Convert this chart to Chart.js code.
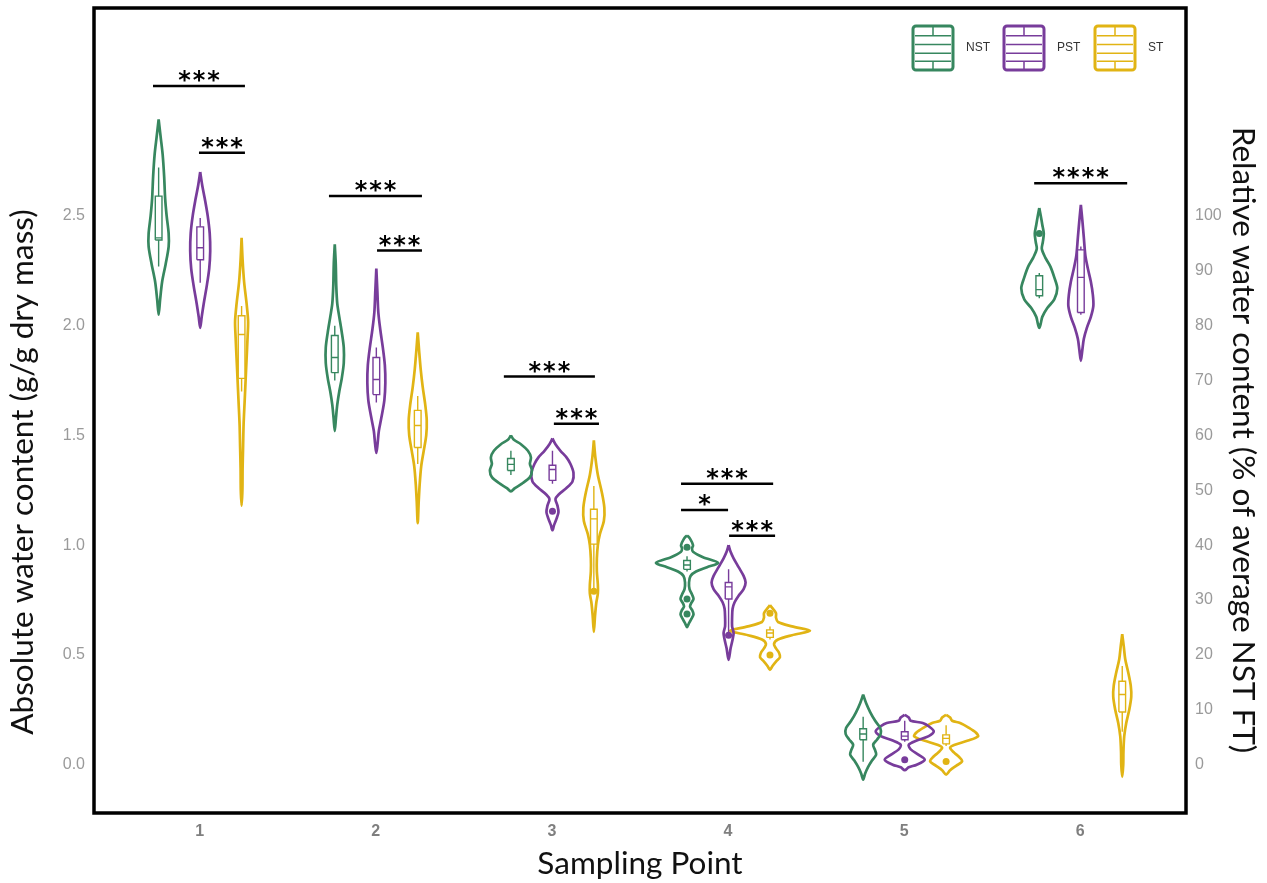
<!DOCTYPE html>
<html>
<head>
<meta charset="utf-8">
<title>Water content by sampling point</title>
<script src="https://cdn.jsdelivr.net/npm/chart.js@4.4.0/dist/chart.umd.min.js"></script>
<style>
  html, body { margin: 0; padding: 0; background: #fff; }
  #wrap { width: 1267px; height: 883px; }
</style>
</head>
<body>
<div id="wrap"><canvas id="chart" width="1267" height="883"></canvas></div>
<script>
'use strict';

//#region Data

const samplingPoints = [1, 2, 3, 4, 5, 6];
const treatments = ['NST', 'PST', 'ST'];
const absTicks = [0, 0.5, 1, 1.5, 2, 2.5];
const relTicks = [0, 10, 20, 30, 40, 50, 60, 70, 80, 90, 100];
// relative content (% of average NST FT) = absolute content * 40
const relPerAbs = 40;

// violin outlines, one per sampling point: [water content, density], top to bottom
const nstViolins = [
  [[2.94, 0], [2.86, 2], [2.78, 4], [2.68, 5.5], [2.58, 6.5], [2.50, 8], [2.42, 10], [2.36, 10], [2.28, 7], [2.20, 3.5], [2.12, 1.5], [2.05, 0]],
  [[2.37, 0], [2.28, 1], [2.18, 1.5], [2.10, 2.5], [2.04, 4.5], [1.97, 7], [1.90, 9], [1.83, 9], [1.76, 7], [1.70, 4.5], [1.64, 2.5], [1.58, 1.2], [1.52, 0]],
  [[1.50, 0], [1.48, 3], [1.46, 10], [1.43, 17], [1.40, 20], [1.37, 19], [1.34, 21], [1.31, 19], [1.28, 11], [1.26, 4], [1.245, 0]],
  [[1.045, 0], [1.03, 3], [1.00, 6], [0.985, 5], [0.97, 6], [0.945, 16], [0.92, 31], [0.90, 20], [0.88, 9], [0.86, 3.5], [0.83, 2], [0.80, 2.5], [0.775, 5], [0.755, 6.5], [0.735, 4], [0.72, 3], [0.705, 5], [0.686, 6.5], [0.665, 4.5], [0.645, 2], [0.627, 0]],
  [[0.319, 0], [0.28, 3], [0.24, 7], [0.20, 12], [0.168, 17], [0.14, 17.5], [0.115, 14], [0.091, 10], [0.065, 12], [0.046, 13], [0.02, 9], [-0.01, 5], [-0.04, 2], [-0.068, 0]],
  [[2.536, 0], [2.50, 1.5], [2.46, 3], [2.42, 4.5], [2.38, 3.5], [2.35, 2.5], [2.31, 6], [2.27, 11], [2.22, 15], [2.17, 18], [2.12, 15], [2.08, 8], [2.04, 3], [2.01, 1.5], [1.99, 0]]
];

const pstViolins = [
  [[2.70, 0], [2.64, 2], [2.58, 4.5], [2.50, 7.5], [2.42, 9.5], [2.34, 10], [2.26, 9], [2.18, 6.5], [2.10, 3.5], [2.04, 1.5], [1.99, 0]],
  [[2.26, 0], [2.16, 1], [2.06, 2], [1.98, 4], [1.90, 6.5], [1.82, 8.5], [1.74, 9], [1.66, 8], [1.58, 5], [1.52, 2.5], [1.46, 1.2], [1.42, 0]],
  [[1.486, 0], [1.46, 3], [1.43, 8], [1.40, 14], [1.37, 18], [1.33, 21], [1.29, 20], [1.26, 14], [1.23, 6], [1.21, 3], [1.18, 5], [1.15, 6], [1.12, 4], [1.09, 1.5], [1.068, 0]],
  [[1.00, 0], [0.97, 2], [0.94, 5], [0.90, 10], [0.86, 15], [0.83, 17], [0.80, 15], [0.77, 10], [0.74, 6], [0.71, 4], [0.67, 3.5], [0.63, 3.5], [0.60, 5], [0.57, 4], [0.53, 2], [0.477, 0]],
  [[0.227, 0], [0.215, 4], [0.20, 6], [0.19, 18], [0.175, 24], [0.152, 29], [0.13, 24], [0.11, 12], [0.091, 4], [0.07, 6], [0.045, 14], [0.023, 20], [0.0, 12], [-0.012, 4], [-0.025, 0]],
  [[2.55, 0], [2.48, 1.5], [2.40, 3], [2.32, 4.5], [2.26, 7], [2.20, 10], [2.14, 12], [2.09, 12.5], [2.04, 10], [1.99, 6], [1.94, 3], [1.89, 1.5], [1.84, 0]]
];

const stViolins = [
  [[2.40, 0], [2.30, 1], [2.20, 2.5], [2.10, 5], [2.02, 6.5], [1.95, 6], [1.85, 5], [1.75, 4], [1.65, 3], [1.55, 2], [1.45, 1.5], [1.35, 1], [1.25, 0.8], [1.18, 0]],
  [[1.97, 0], [1.88, 1.5], [1.80, 3], [1.72, 5], [1.64, 7.5], [1.57, 9], [1.50, 8.5], [1.43, 6], [1.36, 3.5], [1.28, 2], [1.20, 1], [1.10, 0]],
  [[1.477, 0], [1.40, 1.5], [1.32, 4], [1.24, 8], [1.17, 10.5], [1.11, 10], [1.05, 6], [1.00, 4], [0.94, 3], [0.88, 3], [0.82, 4], [0.78, 4], [0.74, 2.5], [0.68, 1.2], [0.605, 0]],
  [[0.727, 0], [0.71, 3], [0.69, 6], [0.67, 6], [0.65, 8], [0.63, 22], [0.61, 40], [0.59, 22], [0.57, 8], [0.55, 4], [0.53, 6], [0.51, 9], [0.49, 10], [0.47, 6], [0.45, 2.5], [0.432, 0]],
  [[0.227, 0], [0.215, 4], [0.20, 6], [0.19, 14], [0.17, 22], [0.145, 30], [0.129, 32], [0.11, 22], [0.09, 8], [0.077, 4], [0.055, 8], [0.035, 13], [0.015, 16], [-0.005, 10], [-0.025, 4], [-0.045, 0]],
  [[0.595, 0], [0.54, 1.5], [0.48, 3], [0.42, 6], [0.36, 8.5], [0.31, 9], [0.25, 7], [0.19, 4], [0.13, 2], [0.06, 1.2], [0.0, 1], [-0.055, 0]]
];

// inner boxplots: [lower whisker, q1, median, q3, upper whisker]
const nstBoxes = [
  [2.27, 2.39, 2.40, 2.59, 2.72],
  [1.75, 1.786, 1.855, 1.955, 2.00],
  [1.32, 1.34, 1.368, 1.395, 1.43],
  [0.88, 0.89, 0.91, 0.93, 0.95],
  [0.014, 0.114, 0.14, 0.164, 0.218],
  [2.125, 2.136, 2.164, 2.227, 2.24]
];

const pstBoxes = [
  [2.195, 2.30, 2.355, 2.45, 2.49],
  [1.65, 1.686, 1.755, 1.855, 1.90],
  [1.28, 1.295, 1.345, 1.364, 1.43],
  [0.60, 0.755, 0.81, 0.83, 0.89],
  [0.105, 0.114, 0.13, 0.15, 0.20],
  [2.05, 2.06, 2.22, 2.345, 2.36]
];

const stBoxes = [
  [1.70, 1.76, 1.96, 2.045, 2.09],
  [1.37, 1.445, 1.545, 1.614, 1.68],
  [0.79, 1.005, 1.12, 1.164, 1.27],
  [0.57, 0.58, 0.60, 0.614, 0.63],
  [0.085, 0.095, 0.12, 0.136, 0.18],
  [0.15, 0.24, 0.32, 0.38, 0.45]
];

// isolated observations: [sampling point, value]
const nstDots = [[4, 0.99], [4, 0.755], [4, 0.686], [6, 2.42]];
const pstDots = [[3, 1.155], [4, 0.59], [5, 0.023]];
const stDots = [[3, 0.79], [4, 0.69], [4, 0.50], [5, 0.015]];

// significance brackets: [from, to, height, stars]
const sigBrackets = [
  [0.735, 1.257, 3.092, '***'],
  [0.996, 1.257, 2.788, '***'],
  [1.734, 2.262, 2.591, '***'],
  [2.007, 2.262, 2.342, '***'],
  [2.727, 3.244, 1.768, '***'],
  [3.011, 3.267, 1.553, '***'],
  [3.733, 4.256, 1.280, '***'],
  [3.733, 4.000, 1.160, '*'],
  [4.006, 4.267, 1.043, '***'],
  [5.738, 6.266, 2.649, '****']
];

//#endregion

//#region Styles

const groups = [
  { name: 'NST', color: '#37875f', dodge: -0.233, violins: nstViolins, boxes: nstBoxes, dots: nstDots },
  { name: 'PST', color: '#783c9b', dodge: 0.003, violins: pstViolins, boxes: pstBoxes, dots: pstDots },
  { name: 'ST', color: '#e1b414', dodge: 0.238, violins: stViolins, boxes: stBoxes, dots: stDots }
];

const densityToX = 1 / 176;
const boxHalf = 0.019;
const absMin = -0.22;
const absMax = 3.447;

const titleColor = '#111111';
const titleFontCss = '31.5px Lato, sans-serif';
const leftTitle = 'Absolute water content (g/g dry mass)';
const rightTitle = 'Relative water content (% of average NST FT)';

//#endregion

//#region Builders

function violinOutline(center, profile) {
  const right = profile.map(([v, d]) => ({ x: center + d * densityToX, y: v }));
  const left = profile.slice(0, -1).reverse().map(([v, d]) => ({ x: center - d * densityToX, y: v }));
  return right.concat(left);
}

function boxOutline(center, box) {
  const q1 = box[1];
  const q3 = box[3];
  return [
    { x: center - boxHalf, y: q1 }, { x: center + boxHalf, y: q1 },
    { x: center + boxHalf, y: q3 }, { x: center - boxHalf, y: q3 },
    { x: center - boxHalf, y: q1 }
  ];
}

function whiskerLines(center, box) {
  const [lo, q1, med, q3, hi] = box;
  return [
    { x: center, y: lo }, { x: center, y: q1 }, { x: center, y: null },
    { x: center - boxHalf, y: med }, { x: center + boxHalf, y: med }, { x: center, y: null },
    { x: center, y: q3 }, { x: center, y: hi }
  ];
}

// keeps the plot frame at the exact canvas edges chosen below
function fixAxis(size) {
  return axis => {
    if (axis.isHorizontal()) {
      axis.height = size;
      axis.paddingLeft = 0;
      axis.paddingRight = 0;
    } else {
      axis.width = size;
      axis.paddingTop = 0;
      axis.paddingBottom = 0;
    }
  };
}

function drawRotated(ctx, text, x, y, angle) {
  ctx.save();
  ctx.translate(x, y);
  ctx.rotate(angle);
  ctx.fillText(text, 0, 0);
  ctx.restore();
}

const datasets = [];

groups.forEach(group => {
  samplingPoints.forEach((point, i) => {
    const center = point + group.dodge;
    datasets.push({
      data: violinOutline(center, group.violins[i]),
      showLine: true, borderColor: group.color, borderWidth: 2.7,
      pointRadius: 0, tension: 0.3, fill: false, order: 3,
      borderJoinStyle: 'round'
    });
    datasets.push({
      data: boxOutline(center, group.boxes[i]),
      showLine: true, borderColor: group.color, borderWidth: 1.4,
      backgroundColor: '#ffffff', fill: 'shape', pointRadius: 0, tension: 0, order: 2
    });
    datasets.push({
      data: whiskerLines(center, group.boxes[i]),
      showLine: true, borderColor: group.color, borderWidth: 1.4,
      pointRadius: 0, tension: 0, spanGaps: false, order: 1
    });
  });
  datasets.push({
    data: group.dots.map(([p, v]) => ({ x: p + group.dodge, y: v })),
    showLine: false, pointRadius: 3.5, pointBackgroundColor: group.color,
    pointBorderWidth: 0, order: 0
  });
});

sigBrackets.forEach(([from, to, height]) => {
  datasets.push({
    data: [{ x: from, y: height }, { x: to, y: height }],
    showLine: true, borderColor: '#000000', borderWidth: 2.5, pointRadius: 0, order: 0
  });
});

//#endregion

//#region Plugins

const decorations = {
  id: 'decorations',
  afterDraw(chart) {
    const ctx = chart.ctx;
    const { left, top, right, bottom } = chart.chartArea;
    const xs = chart.scales.x;
    const ys = chart.scales.y;

    ctx.save();

    // significance stars
    ctx.fillStyle = '#000000';
    ctx.font = 'bold 24px "DejaVu Sans"';
    ctx.textAlign = 'center';
    ctx.textBaseline = 'alphabetic';
    ctx.letterSpacing = '2px';
    sigBrackets.forEach(([from, to, height, stars]) => {
      const cx = (xs.getPixelForValue(from) + xs.getPixelForValue(to)) / 2 + 1;
      ctx.fillText(stars, cx, ys.getPixelForValue(height) + 2);
    });
    ctx.letterSpacing = '0px';

    // vertical axis titles, set a little below the panel middle
    ctx.fillStyle = titleColor;
    ctx.font = titleFontCss;
    ctx.textBaseline = 'middle';
    drawRotated(ctx, leftTitle, 23, 472, -Math.PI / 2);
    drawRotated(ctx, rightTitle, 1243, 440, Math.PI / 2);

    // legend with boxplot keys
    let lx = right - 273;
    const ly = top + 18;
    const iw = 40;
    const ih = 44;
    ctx.font = '12px "Liberation Sans"';
    ctx.textAlign = 'left';
    groups.forEach(group => {
      ctx.strokeStyle = group.color;
      ctx.lineWidth = 3;
      ctx.beginPath();
      ctx.roundRect(lx, ly, iw, ih, 3);
      ctx.stroke();
      ctx.lineWidth = 1.5;
      ctx.beginPath();
      [0.22, 0.42, 0.62, 0.8].forEach(f => {
        ctx.moveTo(lx + 2, ly + ih * f);
        ctx.lineTo(lx + iw - 2, ly + ih * f);
      });
      ctx.moveTo(lx + iw / 2, ly);
      ctx.lineTo(lx + iw / 2, ly + ih * 0.22);
      ctx.moveTo(lx + iw / 2, ly + ih * 0.8);
      ctx.lineTo(lx + iw / 2, ly + ih);
      ctx.stroke();
      ctx.fillStyle = '#333333';
      ctx.fillText(group.name, lx + iw + 13, ly + ih / 2);
      lx += 91;
    });

    // panel frame
    ctx.strokeStyle = '#000000';
    ctx.lineWidth = 3.5;
    ctx.strokeRect(left, top, right - left, bottom - top);

    ctx.restore();
  }
};

//#endregion

//#region Chart

const tickFont = { family: '"Liberation Sans", Arial, sans-serif', size: 16 };
const titleFont = { family: 'Lato, sans-serif', size: 31.5 };

// eslint-disable-next-line no-unused-vars
const chart = new Chart(document.getElementById('chart').getContext('2d'), {
  type: 'scatter',
  data: { datasets },
  plugins: [decorations],
  options: {
    responsive: false,
    animation: false,
    events: [],
    layout: { padding: { top: 8, left: 0, right: 0, bottom: 0 } },
    plugins: {
      legend: { display: false },
      tooltip: { enabled: false }
    },
    scales: {
      x: {
        type: 'linear',
        position: 'bottom',
        min: 0.4,
        max: 6.6,
        afterBuildTicks: axis => { axis.ticks = samplingPoints.map(v => ({ value: v })); },
        afterFit: fixAxis(70),
        grid: { display: false, drawTicks: false },
        border: { display: false },
        ticks: {
          autoSkip: false, maxRotation: 0, padding: 9, color: '#7f7f7f',
          font: Object.assign({ weight: 'bold' }, tickFont),
          callback: v => String(v)
        },
        title: {
          display: true, text: 'Sampling Point', color: titleColor,
          font: titleFont, padding: { top: 0, bottom: 0 }
        }
      },
      y: {
        type: 'linear',
        position: 'left',
        min: absMin,
        max: absMax,
        afterBuildTicks: axis => { axis.ticks = absTicks.map(v => ({ value: v })); },
        afterFit: fixAxis(94),
        grid: { display: false, drawTicks: false },
        border: { display: false },
        ticks: {
          autoSkip: false, padding: 9, color: '#9a9a9a', font: tickFont,
          callback: v => v.toFixed(1)
        },
        title: { display: false }
      },
      y2: {
        type: 'linear',
        position: 'right',
        min: absMin * relPerAbs,
        max: absMax * relPerAbs,
        afterBuildTicks: axis => { axis.ticks = relTicks.map(v => ({ value: v })); },
        afterFit: fixAxis(81),
        grid: { display: false, drawTicks: false },
        border: { display: false },
        ticks: {
          autoSkip: false, padding: 9, color: '#9a9a9a', font: tickFont,
          callback: v => String(v)
        },
        title: { display: false }
      }
    }
  }
});

//#endregion
</script>
</body>
</html>
